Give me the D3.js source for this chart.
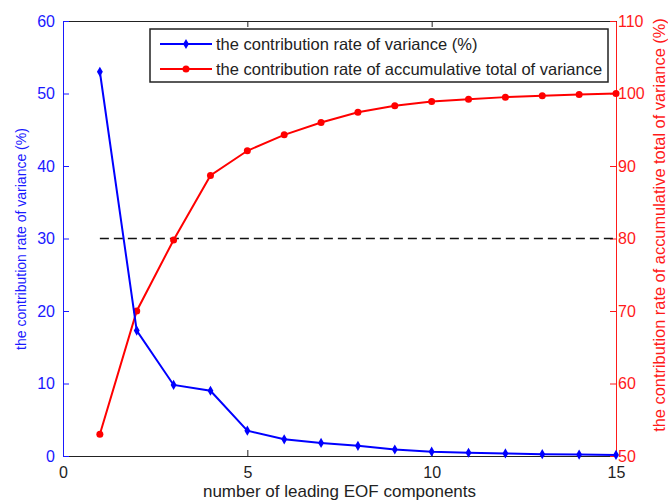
<!DOCTYPE html>
<html>
<head>
<meta charset="utf-8">
<script src="https://cdn.jsdelivr.net/npm/d3@7"></script>
<style>
  body { margin: 0; background: #fff; }
  svg { font-family: "Liberation Sans", Arial, sans-serif; }
</style>
</head>
<body>
<div id="chart"></div>
<script>
// Data
var components = [1, 2, 3, 4, 5, 6, 7, 8, 9, 10, 11, 12, 13, 14, 15];
var variance = [53, 17.3, 9.8, 9.0, 3.5, 2.3, 1.8, 1.4, 0.9, 0.6, 0.45, 0.35, 0.25, 0.2, 0.15];
var cumulative = [53, 70, 79.8, 88.7, 92.1, 94.3, 96.0, 97.4, 98.3, 98.9, 99.2, 99.5, 99.7, 99.85, 100];
var xTicks = [0, 5, 10, 15];
var leftTicks = [0, 10, 20, 30, 40, 50, 60];
var rightTicks = [50, 60, 70, 80, 90, 100, 110];
var threshold = 30;
var legendLabels = ["the contribution rate of variance (%)", "the contribution rate of accumulative total of variance"];

var width = 668, height = 501;
var margin = {top: 21, right: 52, bottom: 45, left: 63};
var innerW = width - margin.left - margin.right;
var innerH = height - margin.top - margin.bottom;

var svg = d3.select("#chart").append("svg")
    .attr("width", width)
    .attr("height", height);

var g = svg.append("g")
    .attr("transform", "translate(" + margin.left + "," + margin.top + ")");

// Scales
var x = d3.scaleLinear().domain([0, 15]).range([0, innerW]);
var yL = d3.scaleLinear().domain([0, 60]).range([innerH, 0]);
var yR = d3.scaleLinear().domain([50, 110]).range([innerH, 0]);

// Axes (ticks point inward like MATLAB)
var xAxis = g.append("g")
    .attr("transform", "translate(0," + innerH + ")")
    .call(d3.axisBottom(x).tickValues(xTicks).tickSizeInner(-6).tickSizeOuter(0).tickPadding(11));
xAxis.selectAll("path, line").attr("stroke", "#222");
xAxis.selectAll("text").attr("fill", "#222").style("font-size", "16px");

var xTop = g.append("g")
    .call(d3.axisTop(x).tickValues(xTicks).tickSizeInner(-6).tickSizeOuter(0).tickFormat(""));
xTop.selectAll("path, line").attr("stroke", "#222");

var leftAxis = g.append("g")
    .call(d3.axisLeft(yL).tickValues(leftTicks).tickSizeInner(-6).tickSizeOuter(0).tickPadding(8));
leftAxis.selectAll("path, line").attr("stroke", "#1a1aff");
leftAxis.selectAll("text").attr("fill", "#1a1aff").style("font-size", "16px");

var rightAxis = g.append("g")
    .attr("transform", "translate(" + innerW + ",0)")
    .call(d3.axisRight(yR).tickValues(rightTicks).tickSizeInner(-6).tickSizeOuter(0).tickPadding(2));
rightAxis.selectAll("path, line").attr("stroke", "#ff1a1a");
rightAxis.selectAll("text").attr("fill", "#ff1a1a").style("font-size", "16px");

// Dashed threshold line
g.append("line")
    .attr("x1", x(1)).attr("x2", x(15))
    .attr("y1", yL(threshold)).attr("y2", yL(threshold))
    .attr("stroke", "#111")
    .attr("stroke-width", 1.5)
    .attr("stroke-dasharray", "9,5");

// Lines
var lineL = d3.line().x((d, i) => x(components[i])).y(d => yL(d));
var lineR = d3.line().x((d, i) => x(components[i])).y(d => yR(d));

g.append("path")
    .datum(cumulative)
    .attr("fill", "none")
    .attr("stroke", "#ff0000")
    .attr("stroke-width", 2)
    .attr("d", lineR);

g.selectAll(".dotR")
    .data(cumulative)
    .join("circle")
    .attr("class", "dotR")
    .attr("cx", (d, i) => x(components[i]))
    .attr("cy", d => yR(d))
    .attr("r", 3.5)
    .attr("fill", "#ff0000");

g.append("path")
    .datum(variance)
    .attr("fill", "none")
    .attr("stroke", "#0000ff")
    .attr("stroke-width", 2)
    .attr("d", lineL);

var diamond = d3.symbol().type(d3.symbolDiamond).size(30);
g.selectAll(".dotL")
    .data(variance)
    .join("path")
    .attr("class", "dotL")
    .attr("transform", (d, i) => "translate(" + x(components[i]) + "," + yL(d) + ")")
    .attr("d", diamond)
    .attr("fill", "#0000ff");

// Legend
var legend = g.append("g")
    .attr("transform", "translate(" + (150 - margin.left) + "," + (29 - margin.top) + ")");
legend.append("rect")
    .attr("width", 458).attr("height", 53)
    .attr("fill", "#fff")
    .attr("stroke", "#222")
    .attr("stroke-width", 1.5);

var legColors = ["#0000ff", "#ff0000"];
legendLabels.forEach(function (lab, i) {
    var ly = 15 + i * 25;
    legend.append("line")
        .attr("x1", 10).attr("x2", 62)
        .attr("y1", ly).attr("y2", ly)
        .attr("stroke", legColors[i])
        .attr("stroke-width", 2);
    if (i === 0) {
        legend.append("path")
            .attr("transform", "translate(36," + ly + ")")
            .attr("d", diamond)
            .attr("fill", legColors[i]);
    } else {
        legend.append("circle")
            .attr("cx", 36).attr("cy", ly).attr("r", 3.5)
            .attr("fill", legColors[i]);
    }
    legend.append("text")
        .attr("x", 66).attr("y", ly)
        .attr("dy", "0.35em")
        .attr("fill", "#222")
        .style("font-size", "16.5px")
        .text(lab);
});

// Axis titles
svg.append("text")
    .attr("x", margin.left + innerW / 2)
    .attr("y", 497)
    .attr("text-anchor", "middle")
    .attr("fill", "#222")
    .style("font-size", "17px")
    .text("number of leading EOF components");

svg.append("text")
    .attr("transform", "translate(26,239) rotate(-90)")
    .attr("text-anchor", "middle")
    .attr("fill", "#1a1aff")
    .style("font-size", "14px")
    .text("the contribution rate of variance (%)");

svg.append("text")
    .attr("transform", "translate(665,225) rotate(-90)")
    .attr("text-anchor", "middle")
    .attr("fill", "#ff1a1a")
    .style("font-size", "16.4px")
    .text("the contribution rate of accumulative total of variance (%)");
</script>
</body>
</html>
